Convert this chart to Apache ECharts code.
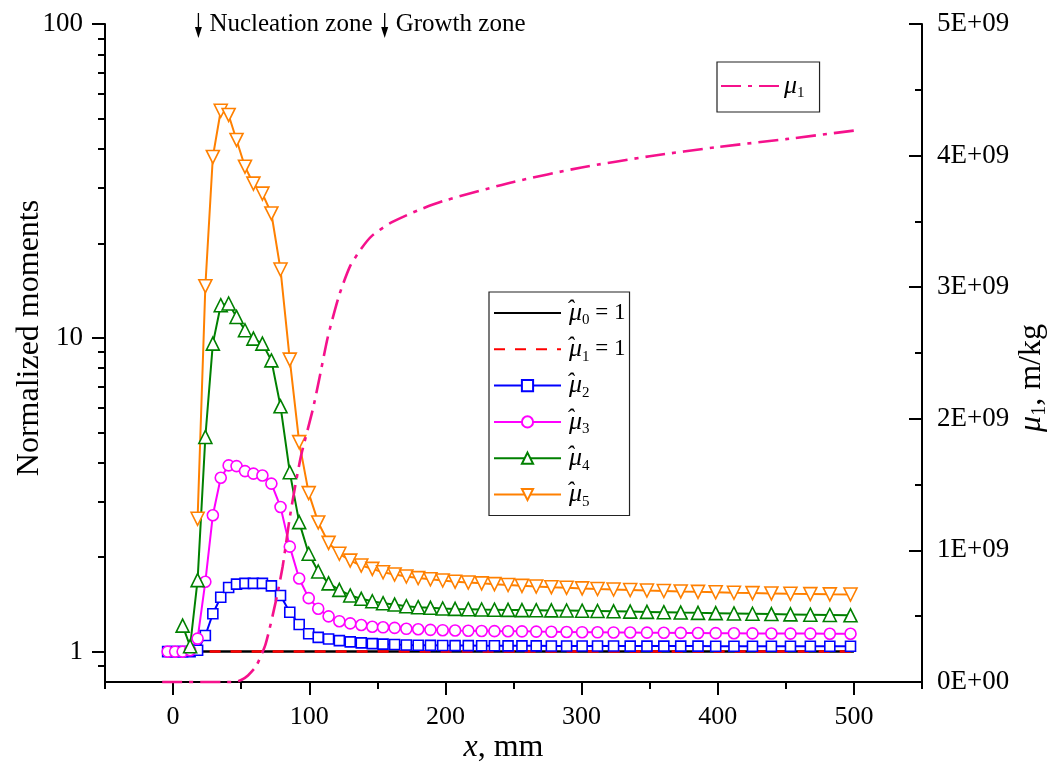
<!DOCTYPE html>
<html>
<head>
<meta charset="utf-8">
<script src="https://cdn.jsdelivr.net/npm/echarts@6/dist/echarts.min.js"></script>
<style>
html, body { margin: 0; padding: 0; background: #fff; }
#chart { width: 1059px; height: 771px; }
</style>
</head>
<body>
<div id="chart"></div>
<script>
// Axial positions of the computed points, mm
const xPos = [-4, 1.5, 7, 12.5, 18, 23.7, 29.2, 35, 40.8, 46.6, 52.8, 59, 65.6, 72.2, 78.9, 85.7, 92.6, 99.6, 106.6, 114.2,
  122.1, 130.1, 138.2, 146.3, 154.2, 162.7, 171.3, 180, 189, 198, 207.1, 216.8, 226.6, 236, 246, 256.2, 266.7, 277.8, 289, 300.4,
  311.7, 323.5, 335.7, 348, 360.4, 372.8, 385.5, 398.5, 411.9, 425.5, 439.4, 453.4, 468, 482.3, 497.5];

// Normalized moments mu2..mu5 (hat), same points as xPos
const mu2Hat = [1.0, 1.0, 1.0, 1.0, 1.01, 1.125, 1.32, 1.49, 1.60, 1.64, 1.65, 1.65, 1.65, 1.62, 1.51, 1.335, 1.22, 1.14, 1.11, 1.097,
  1.084, 1.074, 1.066, 1.06, 1.056, 1.053, 1.05, 1.048, 1.047, 1.046, 1.045, 1.045, 1.044, 1.044, 1.043, 1.043, 1.043, 1.042, 1.042, 1.042,
  1.042, 1.042, 1.041, 1.041, 1.041, 1.041, 1.041, 1.040, 1.040, 1.040, 1.040, 1.040, 1.040, 1.040, 1.040];
const mu3Hat = [1.0, 1.0, 1.0, 1.01, 1.10, 1.67, 2.72, 3.58, 3.92, 3.90, 3.76, 3.69, 3.64, 3.43, 2.89, 2.16, 1.71, 1.48, 1.37, 1.295,
  1.25, 1.23, 1.215, 1.20, 1.195, 1.19, 1.182, 1.178, 1.173, 1.17, 1.167, 1.165, 1.163, 1.162, 1.161, 1.16, 1.158, 1.157, 1.155, 1.153,
  1.152, 1.151, 1.15, 1.149, 1.148, 1.147, 1.146, 1.145, 1.144, 1.143, 1.142, 1.141, 1.141, 1.14, 1.14];
const mu4Hat = [null, null, 1.21, 1.04, 1.69, 4.83, 9.58, 12.7, 12.86, 11.65, 10.57, 9.94, 9.58, 8.47, 6.05, 3.73, 2.585, 2.05, 1.80, 1.65,
  1.573, 1.51, 1.473, 1.447, 1.426, 1.412, 1.395, 1.385, 1.379, 1.372, 1.368, 1.365, 1.362, 1.36, 1.358, 1.356, 1.355, 1.353, 1.352, 1.35,
  1.347, 1.344, 1.341, 1.338, 1.335, 1.332, 1.329, 1.326, 1.323, 1.32, 1.317, 1.314, 1.311, 1.308, 1.305];
const mu5Hat = [null, null, null, null, 2.65, 14.6, 37.7, 52.9, 51.3, 42.7, 35.1, 31.0, 28.8, 24.9, 16.5, 8.52, 4.65, 3.20, 2.58, 2.22,
  2.05, 1.95, 1.88, 1.835, 1.79, 1.76, 1.735, 1.715, 1.70, 1.685, 1.67, 1.66, 1.65, 1.64, 1.63, 1.62, 1.612, 1.604, 1.597, 1.59,
  1.583, 1.577, 1.571, 1.565, 1.56, 1.555, 1.55, 1.545, 1.54, 1.536, 1.532, 1.528, 1.525, 1.522, 1.52];

// mu0 and mu1 normalized to unity
const unitX = [-4, 500];
const unitVal = [1, 1];

// First moment mu1, m/kg
const mu1X = [-8, 45, 50, 55, 61, 68, 75.6, 80.5, 85.4, 89, 94, 102.6, 107.5, 113.6, 122, 130, 138, 146, 160, 180,
  200, 250, 300, 350, 400, 450, 500];
const mu1Val = [0, 0, 0.015e9, 0.05e9, 0.12e9, 0.29e9, 0.62e9, 0.88e9, 1.23e9, 1.45e9, 1.72e9, 2.07e9, 2.31e9, 2.62e9, 2.94e9, 3.16e9, 3.29e9, 3.39e9, 3.49e9, 3.585e9,
  3.66e9, 3.80e9, 3.91e9, 3.995e9, 4.065e9, 4.125e9, 4.19e9];

// Ticks
const xMajorTicks = [0, 100, 200, 300, 400, 500];
const xMinorTicks = [-50, 50, 150, 250, 350, 450, 550];
const yMajorTicks = [1, 10, 100];
const yMinorTicks = [0.9, 2, 3, 4, 5, 6, 7, 8, 9, 20, 30, 40, 50, 60, 70, 80, 90];

// Zone markers along x
const zoneX = [18.6, 155.4];
const zoneNames = ['Nucleation zone', 'Growth zone'];

const SERIF = "'Liberation Serif', 'Times New Roman', serif";
const pairs = (xs, ys) => xs.map((x, i) => [x, ys[i]]);

const legendLabels = {
  m0: '{h|ˆ}{m|μ}{s|0}{t| = 1}',
  m1: '{h|ˆ}{m|μ}{s|1}{t| = 1}',
  m2: '{h|ˆ}{m|μ}{s|2}',
  m3: '{h|ˆ}{m|μ}{s|3}',
  m4: '{h|ˆ}{m|μ}{s|4}',
  m5: '{h|ˆ}{m|μ}{s|5}',
  mu1: '{m|μ}{s|1}'
};
const richText = {
  h: { fontFamily: SERIF, fontStyle: 'italic', fontSize: 24, lineHeight: 24, width: 3, verticalAlign: 'top', color: '#000' },
  m: { fontFamily: SERIF, fontStyle: 'italic', fontSize: 26, lineHeight: 30, color: '#000' },
  s: { fontFamily: SERIF, fontSize: 15, lineHeight: 10, verticalAlign: 'bottom', color: '#000' },
  t: { fontFamily: SERIF, fontSize: 23, lineHeight: 30, color: '#000' }
};

const axisLineStyle = { color: '#000', width: 2 };

function sciLabel(v) {
  if (v === 0) return '0E+00';
  const e = Math.floor(Math.log10(v) + 1e-9);
  const m = Math.round(v / Math.pow(10, e));
  return m + 'E+' + String(e).padStart(2, '0');
}

const chart = echarts.init(document.getElementById('chart'));

const markerSeries = (name, data, color, symbol, size, rotate) => ({
  name, type: 'line', data: pairs(xPos, data), yAxisIndex: 0,
  symbol, symbolSize: size, symbolRotate: rotate || 0,
  showAllSymbol: true, connectNulls: false,
  lineStyle: { color, width: 2 },
  itemStyle: { color: '#fff', borderColor: color, borderWidth: 1.6 },
  z: 3
});

const noMarker = { color: 'rgba(0,0,0,0)', borderColor: 'rgba(0,0,0,0)', borderWidth: 0 };

chart.setOption({
  animation: false,
  backgroundColor: '#fff',
  grid: { left: 105, right: 137, top: 24, bottom: 89, containLabel: false, outerBoundsMode: 'none' },
  xAxis: [
    {
      type: 'value', min: -50, max: 550,
      name: '{i|x}{t|, mm}', nameLocation: 'middle', nameGap: 50, nameMoveOverlap: false,
      nameTextStyle: {
        padding: [0, 20, 0, 0],
        rich: {
          i: { fontFamily: SERIF, fontStyle: 'italic', fontSize: 32, color: '#000' },
          t: { fontFamily: SERIF, fontSize: 32, color: '#000' }
        }
      },
      axisLine: { show: true, onZero: false, lineStyle: axisLineStyle },
      axisTick: { show: true, inside: false, length: 13, lineStyle: { width: 2, color: '#000' }, customValues: xMajorTicks },
      axisLabel: { customValues: xMajorTicks, fontFamily: SERIF, fontSize: 26, color: '#000', margin: 22 },
      splitLine: { show: false }
    },
    {
      type: 'value', min: -50, max: 550, position: 'bottom',
      axisLine: { show: false, onZero: false },
      axisTick: { show: true, inside: false, length: 7, lineStyle: { width: 2, color: '#000' }, customValues: xMinorTicks },
      axisLabel: { show: false },
      splitLine: { show: false }
    }
  ],
  yAxis: [
    {
      type: 'log', logBase: 10, min: 0.8, max: 100, position: 'left',
      name: 'Normalized moments', nameLocation: 'middle', nameGap: 59, nameMoveOverlap: false,
      nameTextStyle: { fontFamily: SERIF, fontSize: 32, color: '#000', padding: [0, 0, 0, 30] },
      axisLine: { show: true, onZero: false, lineStyle: axisLineStyle },
      axisTick: { show: true, inside: false, length: 13, lineStyle: { width: 2, color: '#000' }, customValues: yMajorTicks },
      axisLabel: { customValues: yMajorTicks, fontFamily: SERIF, fontSize: 27, color: '#000', margin: 22 },
      splitLine: { show: false }
    },
    {
      type: 'value', min: 0, max: 5e9, interval: 1e9, position: 'right',
      name: '{m|μ}{s|1}{t|, m/kg}', nameLocation: 'middle', nameGap: 92, nameMoveOverlap: false,
      nameTextStyle: {
        padding: [0, 50, 0, 0],
        rich: {
          m: { fontFamily: SERIF, fontStyle: 'italic', fontSize: 32, lineHeight: 36, color: '#000' },
          s: { fontFamily: SERIF, fontSize: 20, lineHeight: 12, verticalAlign: 'bottom', color: '#000' },
          t: { fontFamily: SERIF, fontSize: 32, lineHeight: 36, color: '#000' }
        }
      },
      axisLine: { show: true, onZero: false, lineStyle: axisLineStyle },
      axisTick: { show: true, inside: true, length: 13, lineStyle: { width: 2, color: '#000' } },
      minorTick: { show: true, splitNumber: 2, length: 7, lineStyle: { width: 2, color: '#000' } },
      axisLabel: { fontFamily: SERIF, fontSize: 27, color: '#000', margin: 15, formatter: sciLabel },
      splitLine: { show: false }
    },
    {
      type: 'log', logBase: 10, min: 0.8, max: 100, position: 'left',
      axisLine: { show: false, onZero: false },
      axisTick: { show: true, inside: false, length: 7, lineStyle: { width: 2, color: '#000' }, customValues: yMinorTicks },
      axisLabel: { show: false },
      splitLine: { show: false }
    }
  ],
  legend: [
    {
      data: [
        { name: 'm0', itemStyle: noMarker },
        { name: 'm1', itemStyle: noMarker },
        'm2', 'm3', 'm4', 'm5'
      ],
      orient: 'vertical', left: 489, top: 292,
      itemWidth: 67, itemHeight: 14, itemGap: 6.3,
      padding: [6, 4, 6, 4],
      borderColor: '#222', borderWidth: 1.2,
      formatter: n => legendLabels[n],
      textStyle: { rich: richText }
    },
    {
      data: [{ name: 'mu1', itemStyle: noMarker }],
      orient: 'vertical', left: 717, top: 62,
      itemWidth: 58, itemHeight: 14,
      padding: [11, 15, 11, 3],
      borderColor: '#222', borderWidth: 1.2,
      formatter: n => legendLabels[n],
      textStyle: { rich: richText }
    }
  ],
  series: [
    {
      name: 'm0', type: 'line', data: pairs(unitX, unitVal), yAxisIndex: 0,
      symbol: 'none', lineStyle: { color: '#000', width: 2.5 }, itemStyle: { color: '#000' }, z: 2
    },
    {
      name: 'm1', type: 'line', data: pairs(unitX, unitVal), yAxisIndex: 0,
      symbol: 'none', lineStyle: { color: '#ff0000', width: 2.5, type: [11, 10] }, itemStyle: { color: '#ff0000' }, z: 2
    },
    markerSeries('m2', mu2Hat, '#0000ff', 'rect', 10),
    markerSeries('m3', mu3Hat, '#ff00ff', 'circle', 11),
    markerSeries('m4', mu4Hat, '#008000', 'triangle', 13),
    markerSeries('m5', mu5Hat, '#ff8000', 'triangle', 13, 180),
    {
      name: 'mu1', type: 'line', data: pairs(mu1X, mu1Val), yAxisIndex: 1,
      symbol: 'none', smooth: 0.2, clip: false,
      lineStyle: { color: '#f5118c', width: 2.6, type: [20, 7, 4, 7] }, itemStyle: { color: '#f5118c' }, z: 4
    }
  ]
});

// Zone markers: arrows with captions above the plot
const zoneGraphics = [];
zoneX.forEach((xv, i) => {
  const px = chart.convertToPixel({ xAxisIndex: 0 }, xv);
  zoneGraphics.push({
    type: 'line', shape: { x1: px, y1: 13, x2: px, y2: 30 },
    style: { stroke: '#000', lineWidth: 1.3 }, z: 10
  });
  zoneGraphics.push({
    type: 'polygon', shape: { points: [[px - 3.5, 27], [px + 3.5, 27], [px, 38]] },
    style: { fill: '#000' }, z: 10
  });
  zoneGraphics.push({
    type: 'text', x: px + 11, y: 24,
    style: { text: zoneNames[i], font: '25px ' + SERIF, fill: '#000', textVerticalAlign: 'middle' }, z: 10
  });
});
chart.setOption({ graphic: zoneGraphics });
</script>
</body>
</html>
